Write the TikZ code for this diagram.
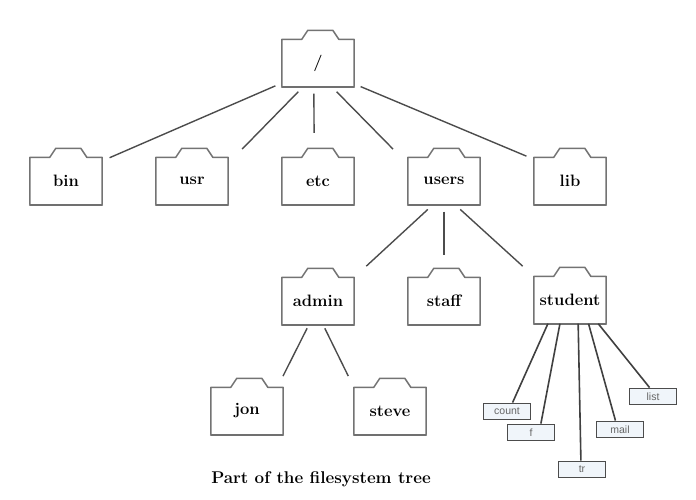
\documentclass[tikz,border=0pt]{standalone}
\usepackage{fontspec}
\setsansfont{Liberation Sans}
\usetikzlibrary{positioning}
\definecolor{foldergray}{gray}{0.45}
\definecolor{linkgray}{gray}{0.3}
\definecolor{filefill}{RGB}{240,245,250}
% folder: name, position, label
\newcommand{\folder}[3]{
  \node[folderbox] (#1) at #2 {#3};
  \draw[folderline] (#1.south west) -- (#1.north west) -- ++(20,0) -- ++(6,-9) -- ++(25,0) -- ++(6,9) -- (#1.north east) -- (#1.south east);
  \draw[folderbase] (#1.south west) -- (#1.south east);
}
\begin{document}
\begin{tikzpicture}[
x=1pt,y=-1pt,
folderbox/.style={
  minimum width=72pt,
  minimum height=47pt,
  inner sep=0pt,
  font=\fontsize{16.5}{18}\selectfont\bfseries
},
folderline/.style={
  draw=foldergray,
  line width=1.5pt,
  line join=round
},
folderbase/.style={
  draw=linkgray!80,
  line width=1.8pt,
  line cap=round
},
filebox/.style={
  draw=linkgray,
  fill=filefill,
  line width=1.8pt,
  minimum width=47pt,
  minimum height=16pt,
  inner sep=0pt,
  text=black!60,
  font=\sffamily\fontsize{10.5}{11}\selectfont
},
link/.style={
  draw=linkgray,
  line width=1.4pt,
  shorten <=7pt,
  shorten >=10pt
},
filelink/.style={
  draw=black!75,
  line width=1.6pt
}
]
\useasboundingbox (0,0) rectangle (696,500);

\folder{root}{(318,63)}{/}
\folder{bin}{(66,181)}{bin}
\folder{usr}{(192,181)}{usr}
\folder{etc}{(318,181)}{etc}
\folder{users}{(444,181)}{users}
\folder{lib}{(570,181)}{lib}
\folder{admin}{(318,301)}{admin}
\folder{staff}{(444,301)}{staff}
\folder{student}{(570,300)}{student}
\folder{jon}{(247,411)}{jon}
\folder{steve}{(390,411)}{steve}

\node[filebox] (count) at (507,411.5) {count};
\node[filebox] (f) at (531,432.5) {f};
\node[filebox] (tr) at (582,469.5) {tr};
\node[filebox] (mail) at (620,429.5) {mail};
\node[filebox] (list) at (653,396.5) {list};

\draw[link,shorten >=8pt] (root.-151) -- (bin.29.5);
\draw[link,shorten >=20pt] (root.-122) -- (usr.26);
\draw[link,shorten >=24.5pt] (root.-100) -- (etc.99.6);
\draw[link,shorten >=21pt] (root.-60) -- (users.155);
\draw[link,shorten >=8pt] (root.-30) -- (lib.149);

\draw[link,shorten >=16.5pt] (users.-115) -- (admin.north east);
\draw[link,shorten >=22.5pt] (users.south) -- (staff.north);
\draw[link,shorten >=15pt] (users.-65) -- (student.north west);

\draw[link,shorten <=4pt,shorten >=12.5pt] (admin.-111) -- (jon.38);
\draw[link,shorten <=4pt,shorten >=12.5pt] (admin.-78) -- (steve.north west);

\draw[filelink] (student.-133) -- (count.58);
\draw[filelink] (student.-113) -- (f.42);
\draw[filelink] (student.-71) -- (tr.97);
\draw[filelink] (student.-52.5) -- (mail.117);
\draw[filelink] (student.-40) -- (list.111);

\node[font=\fontsize{17}{19}\selectfont\bfseries] (caption) at (321,479) {Part of the filesystem tree};
\end{tikzpicture}
\end{document}
